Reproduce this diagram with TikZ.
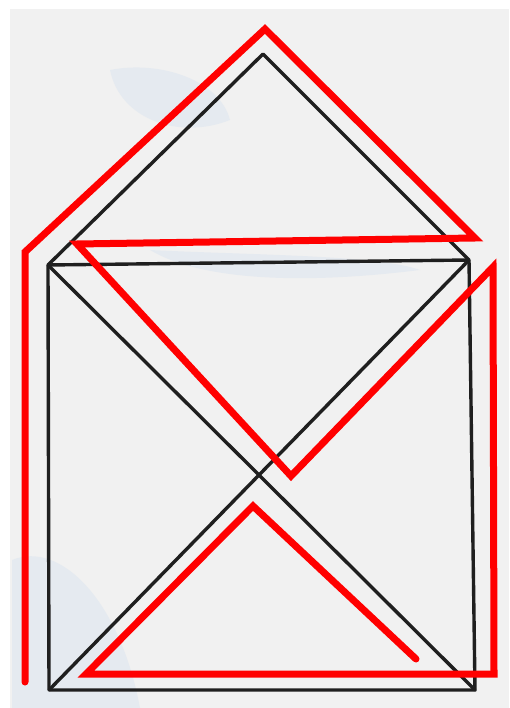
\documentclass[tikz,border=0pt]{standalone}
\begin{document}
\begin{tikzpicture}[x=1pt,y=-1pt,
  ink/.style={draw=black!88,line width=3.4pt,line cap=round,line join=round},
  redpen/.style={draw=red,line width=7pt,line cap=round,line join=miter},
  stain/.style={fill=cyan!60!blue!30,opacity=0.18}]
\useasboundingbox (0,0) rectangle (509,708);
\fill[white] (0,0) rectangle (509,708);
\fill[gray!11] (10,9) rectangle (509,708);
% faint bluish stains of the scan
\fill[stain] (12,560) .. controls (60,540) and (120,600) .. (140,708) -- (12,708) -- cycle;
\fill[stain] (110,70) .. controls (160,60) and (220,80) .. (230,120) .. controls (180,140) and (120,120) .. (110,70);
\fill[stain] (150,250) .. controls (250,255) and (380,255) .. (420,270) .. controls (300,285) and (200,280) .. (150,250);
% envelope (black)
\coordinate (apex) at (263,54);
\coordinate (tl) at (48,265);
\coordinate (tr) at (469,260);
\coordinate (bl) at (49,690);
\coordinate (br) at (475,690);
\draw[ink] (tl) -- (apex) -- (tr);
\draw[ink] (tl) -- (bl) -- (br) -- (tr) -- cycle;
\draw[ink] (tl) -- (br);
\draw[ink] (tr) -- (bl);
% red single-stroke path
\coordinate (r1) at (25,682);
\coordinate (r2) at (25,252);
\coordinate (r3) at (265,29);
\coordinate (r4) at (475,238);
\coordinate (r5) at (77,244);
\coordinate (r6) at (291,476);
\coordinate (r7) at (493,267);
\coordinate (r8) at (494,674);
\coordinate (r9) at (86,674);
\coordinate (r10) at (253,506);
\coordinate (r11) at (416,659);
\draw[redpen] (r1) -- (r2) -- (r3) -- (r4) -- (r5) -- (r6) -- (r7) -- (r8) -- (r9) -- (r10) -- (r11);
\end{tikzpicture}
\end{document}
